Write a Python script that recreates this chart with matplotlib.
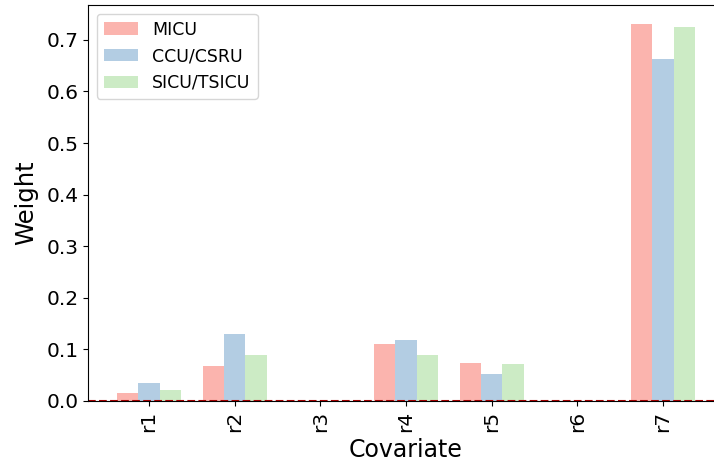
import matplotlib
matplotlib.use("Agg")
import matplotlib.pyplot as plt
import numpy as np

categories = ["r1", "r2", "r3", "r4", "r5", "r6", "r7"]
micu = [0.015, 0.068, 0.0, 0.111, 0.074, 0.0, 0.731]
ccu_csru = [0.035, 0.130, 0.0, 0.118, 0.052, 0.0, 0.662]
sicu_tsicu = [0.021, 0.089, 0.0, 0.089, 0.072, 0.0, 0.725]
series_names = ["MICU", "CCU/CSRU", "SICU/TSICU"]
colors = ["#FBB4AE", "#B3CDE3", "#CCEBC5"]

fig = plt.figure(figsize=(7.14, 4.63), dpi=100)
ax = fig.add_axes([88/714, (463-401)/463, 636/714, 396/463])

x = np.arange(len(categories))
w = 0.25
for i, (vals, name, c) in enumerate(zip([micu, ccu_csru, sicu_tsicu], series_names, colors)):
    ax.bar(x + (i - 1) * w, vals, width=w, color=c, label=name)

ax.axhline(0, color="#aa0000", linestyle="--", linewidth=1.5)

ax.set_xticks(x)
ax.set_xticklabels(categories, rotation=90, fontsize=14.5)
ax.tick_params(axis="y", labelsize=14.5)
ax.set_xlabel("Covariate", fontsize=17, labelpad=4)
ax.set_ylabel("Weight", fontsize=17.5, labelpad=6)
ax.legend(loc="upper left", fontsize=12.5)

fig.savefig("out.png", dpi=100)
